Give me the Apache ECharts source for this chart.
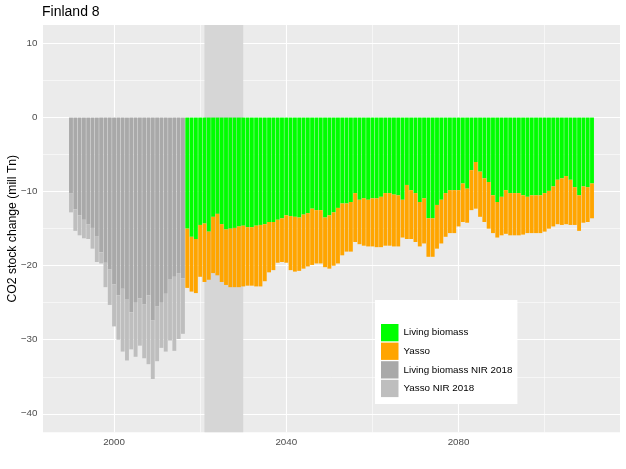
<!DOCTYPE html>
<html>
<head>
    <meta http-equiv="Content-Type" content="text/html; charset=utf-8"/>
    <title>Finland 8</title>
    <style>
        html, body { margin: 0; padding: 0; background: #fff; }
        #main { width: 626px; height: 469px; }
    </style>
    <script src="https://cdn.jsdelivr.net/npm/echarts@6/dist/echarts.min.js"></script>
</head>
<body>
<div id="main"></div>
<script type="text/javascript">
    // NIR 2018 inventory years, 1990-2016
    var nirStart = 1990;
    var livingBiomassNir = [-10.2, -12.4, -13.2, -13.8, -14.4, -14.9, -16.0, -18.2, -19.6, -20.5,
        -22.5, -24.0, -23.1, -24.5, -26.3, -25.0, -24.4, -25.2, -24.0, -27.4,
        -25.5, -25.0, -23.8, -21.8, -21.5, -21.0, -21.7];
    var yassoNir = [-2.6, -2.9, -2.7, -2.5, -2.0, -2.8, -3.5, -1.5, -3.3, -4.8,
        -5.7, -6.0, -8.5, -8.3, -5.0, -7.3, -6.4, -7.3, -9.3, -7.9,
        -7.4, -6.1, -7.8, -8.3, -10.0, -8.9, -7.5];

    // scenario years, 2017-2111
    var projStart = 2017;
    var livingBiomass = [-15.0, -16.1, -16.4, -14.5, -14.3, -15.4, -13.4, -13.0, -14.4, -15.1,
        -15.0, -14.9, -14.7, -14.6, -14.8, -14.8, -14.6, -14.5, -14.4, -14.1,
        -14.1, -13.8, -13.6, -13.2, -13.3, -13.4, -13.5, -13.1, -12.9, -12.3,
        -12.5, -12.5, -13.5, -13.2, -12.8, -12.2, -11.6, -11.6, -11.4, -10.2,
        -11.1, -10.9, -11.1, -10.9, -10.9, -10.7, -10.2, -10.2, -10.4, -10.5,
        -11.1, -9.1, -9.8, -10.2, -11.4, -10.9, -13.6, -13.6, -11.8, -11.1,
        -10.2, -9.8, -9.8, -9.8, -8.9, -9.6, -7.1, -6.0, -7.3, -8.2,
        -8.7, -10.5, -11.4, -10.7, -9.8, -10.2, -10.2, -10.2, -10.5, -10.7,
        -10.5, -10.5, -10.5, -10.2, -9.9, -9.3, -8.4, -8.2, -7.9, -8.4,
        -9.4, -10.5, -9.3, -9.4, -8.9];
    var yasso = [-8.0, -7.4, -7.3, -7.0, -7.9, -6.5, -7.6, -8.3, -7.8, -7.5,
        -7.9, -8.0, -8.2, -8.2, -7.9, -7.9, -8.2, -8.3, -7.7, -6.8,
        -6.5, -5.8, -5.9, -6.4, -7.3, -7.4, -7.2, -7.3, -7.2, -7.6,
        -7.2, -7.2, -6.7, -7.2, -7.2, -7.5, -7.0, -6.5, -6.7, -6.6,
        -6.0, -6.4, -6.3, -6.5, -6.6, -6.8, -7.1, -7.1, -7.0, -6.9,
        -5.1, -7.3, -6.6, -6.6, -6.0, -6.1, -5.2, -5.2, -5.9, -5.9,
        -5.9, -5.8, -5.8, -4.9, -5.2, -4.6, -5.4, -6.3, -6.1, -5.9,
        -6.3, -5.1, -4.8, -5.2, -5.9, -5.7, -5.7, -5.7, -5.3, -4.9,
        -5.1, -5.1, -5.1, -5.2, -5.1, -5.4, -6.0, -6.3, -6.5, -6.1,
        -5.1, -4.8, -4.9, -4.7, -4.7];

    var seriesNames = ['Living biomass', 'Yasso', 'Living biomass NIR 2018', 'Yasso NIR 2018'];
    var seriesColors = ['#00FF00', '#FFA500', '#A9A9A9', '#BEBEBE'];

    var xFirst = 1984, xLast = 2117;          // panel range (with ggplot padding)
    var xTickLabels = ['2000', '2040', '2080'];
    var xMinorGrid = ['2020', '2060', '2100'];
    var shadedYears = ['2021', '2030'];
    var yMin = -42.5, yMax = 12.5;

    var axisYears = [];
    for (var y = xFirst; y <= xLast; y++) axisYears.push(String(y));

    function pad(start, vals) {
        return axisYears.map(function (yr) {
            var i = Number(yr) - start;
            return (i >= 0 && i < vals.length) ? vals[i] : '-';
        });
    }

    var gridLines = xTickLabels.map(function (v) {
        return {xAxis: v, lineStyle: {color: '#fff', width: 1.1, type: 'solid'}};
    }).concat(xMinorGrid.map(function (v) {
        return {xAxis: v, lineStyle: {color: '#fff', width: 0.55, type: 'solid'}};
    }));

    var myChart = echarts.init(document.getElementById('main'));
    var fontFam = '"Liberation Sans", Arial, sans-serif';

    function bar(idx, start, vals) {
        return {
            name: seriesNames[idx],
            type: 'bar',
            stack: 'co2',
            barCategoryGap: '10%',
            data: pad(start, vals),
            itemStyle: {color: seriesColors[idx]},
            emphasis: {disabled: true},
            z: 2
        };
    }

    // helper series (no marks of its own) carrying the shaded period and vertical grid lines
    var backdrop = {
        name: 'backdrop',
        type: 'line',
        data: pad(0, []),
        symbol: 'none',
        silent: true,
        z: 1,
        markArea: {
            silent: true,
            z: 1,
            itemStyle: {color: '#D6D6D6'},
            data: [[{xAxis: shadedYears[0], yAxis: yMin}, {xAxis: shadedYears[1], yAxis: yMax}]]
        },
        markLine: {
            silent: true,
            z: 1,
            symbol: 'none',
            label: {show: false},
            data: gridLines
        }
    };

    option = {
        animation: false,
        textStyle: {fontFamily: fontFam},
        title: {
            text: 'Finland 8',
            left: 42,
            top: 5,
            padding: 0,
            textStyle: {fontFamily: fontFam, fontSize: 14, fontWeight: 'normal', color: '#000'}
        },
        legend: {
            orient: 'vertical',
            left: 375,
            top: 300,
            padding: [24, 5, 7, 6],
            backgroundColor: '#fff',
            icon: 'rect',
            itemWidth: 17.5,
            itemHeight: 17.3,
            itemGap: 1.3,
            selectedMode: false,
            data: seriesNames,
            textStyle: {fontFamily: fontFam, fontSize: 9.8, color: '#000'}
        },
        grid: {
            left: 43,
            right: 6,
            top: 25,
            bottom: 36.7,
            containLabel: false,
            outerBoundsMode: 'none',
            show: true,
            backgroundColor: '#EBEBEB',
            borderWidth: 0
        },
        xAxis: {
            type: 'category',
            data: axisYears,
            boundaryGap: true,
            axisLine: {show: false},
            axisTick: {
                alignWithLabel: true,
                length: 2.7,
                lineStyle: {color: '#333', width: 1.1},
                interval: function (i, v) { return xTickLabels.indexOf(v) >= 0; }
            },
            axisLabel: {
                interval: function (i, v) { return xTickLabels.indexOf(v) >= 0; },
                margin: 4.5,
                color: '#4D4D4D',
                fontSize: 9.8,
                fontFamily: fontFam
            },
            splitLine: {show: false}
        },
        yAxis: {
            type: 'value',
            min: yMin,
            max: yMax,
            splitNumber: 5,
            name: 'CO2 stock change (mill Tn)',
            nameLocation: 'middle',
            nameGap: 24,
            nameMoveOverlap: false,
            nameTextStyle: {fontFamily: fontFam, fontSize: 12.2, color: '#000'},
            axisLine: {show: false},
            axisTick: {length: 2.7, lineStyle: {color: '#333', width: 1.1}},
            axisLabel: {
                margin: 5.5,
                color: '#4D4D4D',
                fontSize: 9.8,
                fontFamily: fontFam,
                showMinLabel: false,
                showMaxLabel: false,
                formatter: function (v) {
                    if (v % 10 !== 0) return '';
                    return String(v).replace('-', '\u2212');
                }
            },
            splitLine: {show: true, showMinLine: false, showMaxLine: false,
                lineStyle: {color: '#fff', width: 1.1}},
            minorTick: {show: false, splitNumber: 2},
            minorSplitLine: {show: true, lineStyle: {color: '#fff', width: 0.55}}
        },
        series: [
            backdrop,
            bar(0, projStart, livingBiomass),
            bar(1, projStart, yasso),
            bar(2, nirStart, livingBiomassNir),
            bar(3, nirStart, yassoNir)
        ]
    };
    myChart.setOption(option);
</script>
</body>
</html>
